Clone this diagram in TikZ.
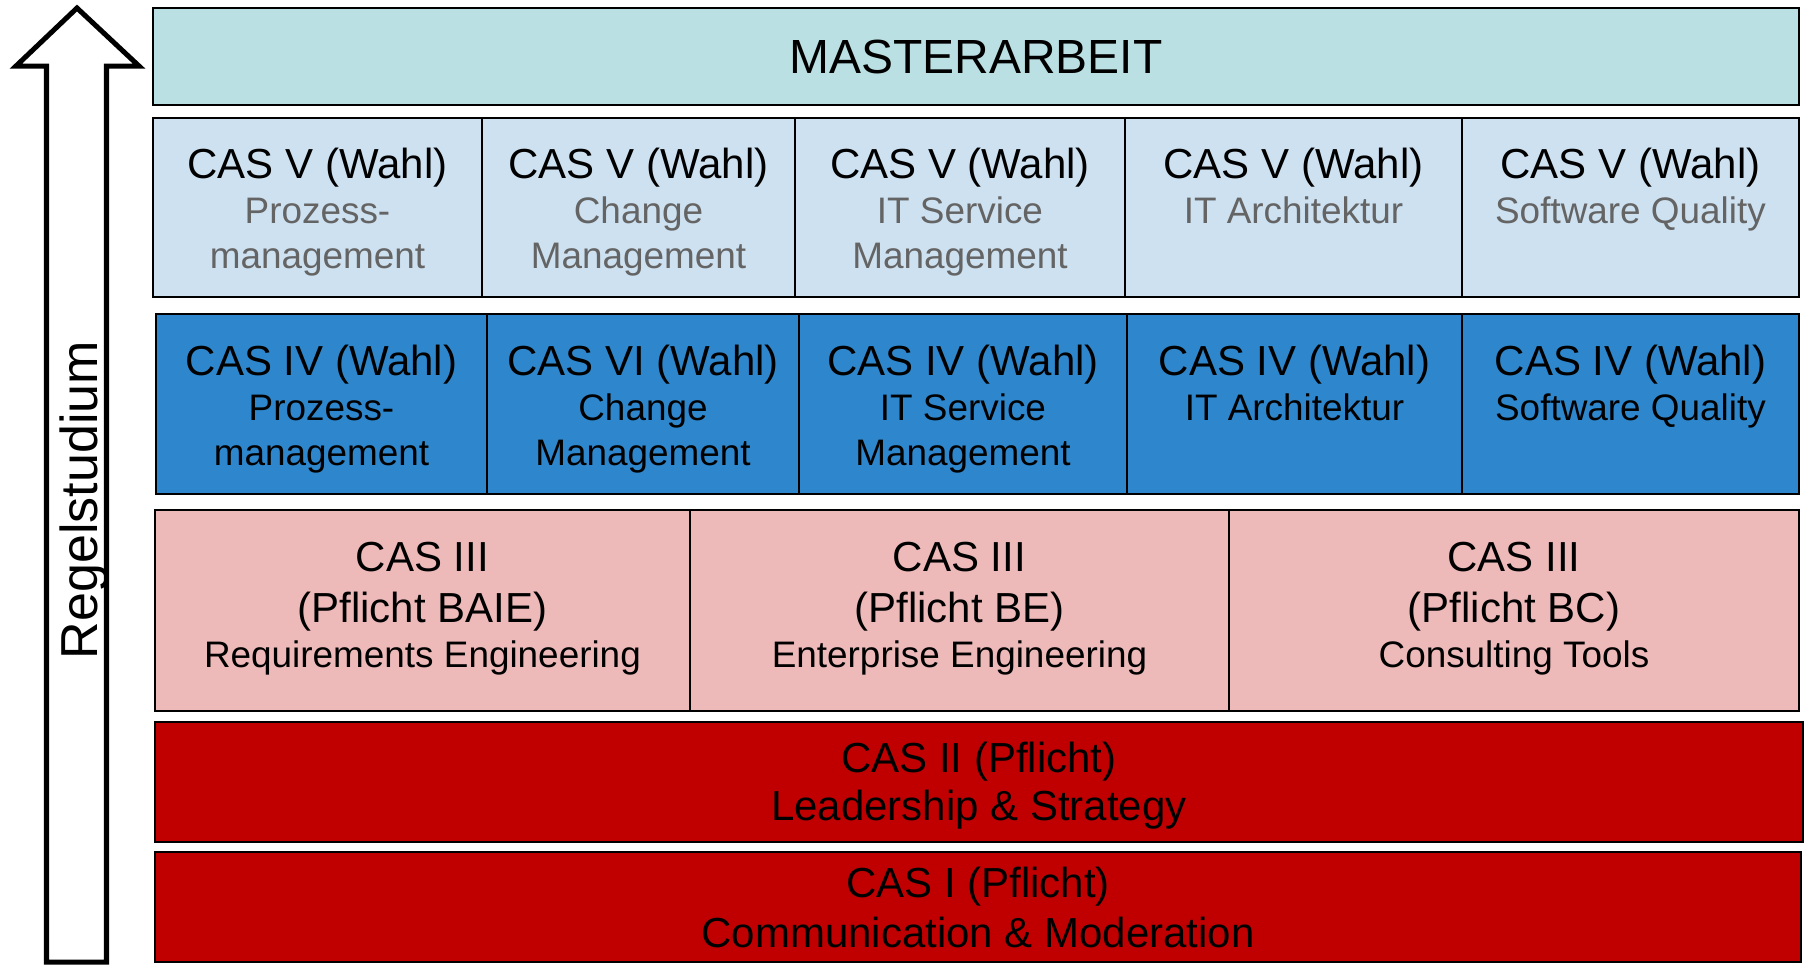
\documentclass[tikz,border=0pt]{standalone}
\usepackage{fontspec}
\setmainfont{Liberation Sans}
\usetikzlibrary{calc}
\definecolor{mastercol}{RGB}{186,224,227}
\definecolor{wahlvcol}{RGB}{205,225,241}
\definecolor{wahlivcol}{RGB}{46,135,204}
\definecolor{pflichtiiicol}{RGB}{237,185,185}
\definecolor{pflichtcol}{RGB}{192,0,0}
\definecolor{subgray}{RGB}{100,100,100}
\newcommand{\ttl}[1]{{\color{black}\fontsize{23.9}{25.6}\selectfont #1}}
\tikzset{
  cell/.style={draw=black, line width=1.1pt, inner sep=0pt},
  celltext/.style={align=center, anchor=base, inner sep=0pt, font=\fontsize{21}{25.6}\selectfont},
}
\begin{document}
\begin{tikzpicture}[x=0.02cm,y=-0.02cm]
                \useasboundingbox (0,0) rectangle (1806,965);
                \draw[line width=2.85pt, miter limit=10] (46.5,962) -- (46.5,66) -- (16,66) -- (77,8) -- (139,66) -- (106.5,66) -- (106.5,962) -- cycle;
                \node[rotate=90, anchor=base, inner sep=0pt, font=\fontsize{29.6}{35}\selectfont] (regel) at (97,500) {Regelstudium};
                \node[cell, fill=mastercol, anchor=north west, minimum width=1646*0.02cm, minimum height=97*0.02cm] (master) at (152,7) {};
                \node[celltext, font=\fontsize{27.3}{30}\selectfont] (mastertxt) at ($(master.north)+(0,66)$) {MASTERARBEIT};
                \foreach \a/\b/\s/\t [count=\i] in {152/481/Prozess-/management,481/794/Change/Management,794/1124/IT Service/Management,1124/1461/IT Architektur/,1461/1798/Software Quality/}
                {
                    \node[cell, fill=wahlvcol, anchor=north west, minimum width={(\b-\a)*0.02cm}, minimum height=179*0.02cm] (casv\i) at (\a,117) {};
                    \node[celltext, text=subgray] (casvtxt\i) at ($(casv\i.north)+(0,151)$) {\ttl{CAS V (Wahl)}\\\s\\\t};
                }
                \foreach \a/\b/\n/\s/\t [count=\i] in {155/486/IV/Prozess-/management,486/798/VI/Change/Management,798/1126/IV/IT Service/Management,1126/1461/IV/IT Architektur/,1461/1798/IV/Software Quality/}
                {
                    \node[cell, fill=wahlivcol, anchor=north west, minimum width={(\b-\a)*0.02cm}, minimum height=180*0.02cm] (casiv\i) at (\a,313) {};
                    \node[celltext] (casivtxt\i) at ($(casiv\i.north)+(0,152)$) {\ttl{CAS \n\ (Wahl)}\\\s\\\t};
                }
                \foreach \a/\b/\p/\t [count=\i] in {154/689/BAIE/Requirements Engineering,689/1228/BE/Enterprise Engineering,1228/1798/BC/Consulting Tools}
                {
                    \node[cell, fill=pflichtiiicol, anchor=north west, minimum width={(\b-\a)*0.02cm}, minimum height=201*0.02cm] (casiii\i) at (\a,509) {};
                    \node[celltext] (casiiitxt\i) at ($(casiii\i.north)+(0,158)$) {\ttl{CAS III}\\[3.4pt]\ttl{(Pflicht \p)}\\\t};
                }
                \node[cell, fill=pflichtcol, anchor=north west, minimum width=1648*0.02cm, minimum height=120*0.02cm] (casii) at (154,721) {};
                \node[celltext] (casiitxt) at ($(casii.north)+(0,99)$) {\ttl{CAS II (Pflicht)}\\[1.4pt]\ttl{Leadership \& Strategy}};
                \node[cell, fill=pflichtcol, anchor=north west, minimum width=1646*0.02cm, minimum height=110*0.02cm] (casi) at (154,851) {};
                \node[celltext] (casitxt) at ($(casi.north)+(0,96)$) {\ttl{CAS I (Pflicht)}\\[2.8pt]\ttl{Communication \& Moderation}};
            \end{tikzpicture}
\end{document}
